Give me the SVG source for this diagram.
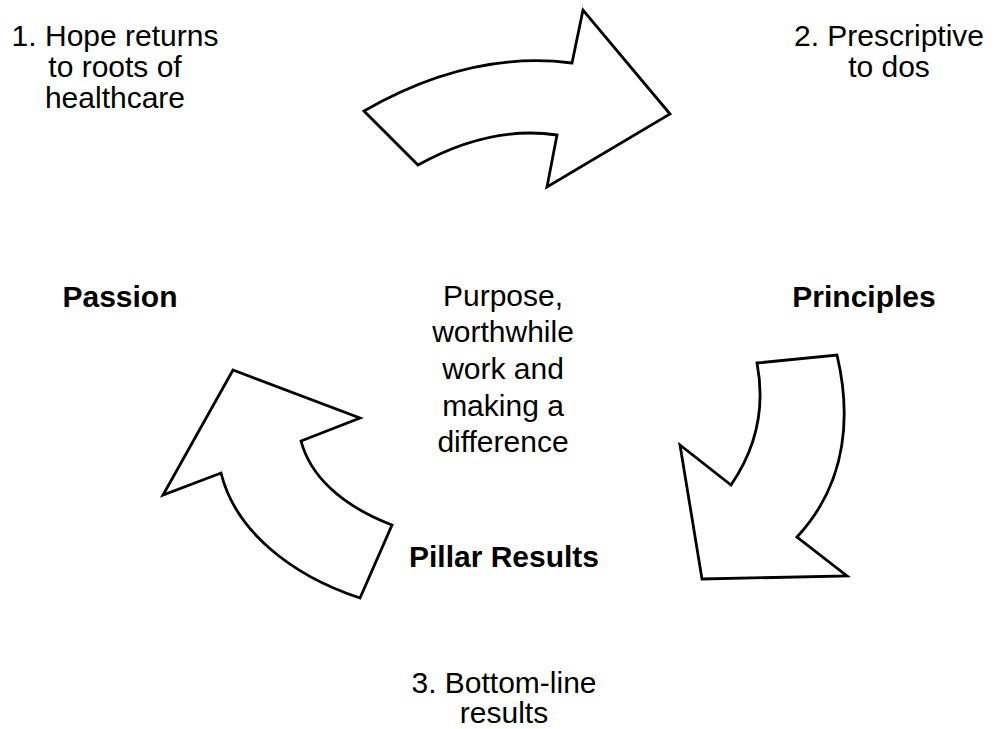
<svg xmlns="http://www.w3.org/2000/svg" width="1002" height="729" viewBox="0 0 1002 729">
<style>
.arrow{fill:#fff;stroke:#000;stroke-width:2.8;stroke-linejoin:miter}
.t{font-family:"Liberation Sans",Arial,sans-serif;font-size:30px;fill:#000;text-anchor:middle}
.b{font-weight:bold}
</style>
<rect width="1002" height="729" fill="#fff"/>
<g id="connectors">
<path id="arrow-top" class="arrow" d="M364,111 Q470,50 572,63 L583,10 L670,114 L547,187 L557,135 Q490,125 418,165 Z"/>
<path id="arrow-right" class="arrow" d="M757,363 L837,355 C850,410 850,480 797,537 L847,576 L702,579 L680,445 L731,485 C755,450 766,410 757,363 Z"/>
<path id="arrow-left" class="arrow" d="M233,370 L360,418 L301,441 C310,475 340,505 392,525 L360,598 C290,575 235,530 221,473 L163,495 Z"/>
</g>
<g id="node-hope">
<text class="t" x="115" y="46">1. Hope returns</text>
<text class="t" x="115" y="77">to roots of</text>
<text class="t" x="115" y="108">healthcare</text>
</g>
<g id="node-prescriptive">
<text class="t" x="889" y="46">2. Prescriptive</text>
<text class="t" x="889" y="77">to dos</text>
</g>
<g id="node-passion">
<text class="t b" x="120" y="307">Passion</text>
</g>
<g id="node-principles">
<text class="t b" x="864" y="307">Principles</text>
</g>
<g id="node-purpose">
<text class="t" x="503" y="306">Purpose,</text>
<text class="t" x="503" y="342">worthwhile</text>
<text class="t" x="503" y="379">work and</text>
<text class="t" x="503" y="416">making a</text>
<text class="t" x="503" y="452">difference</text>
</g>
<g id="node-pillar">
<text class="t b" x="504" y="567">Pillar Results</text>
</g>
<g id="node-bottomline">
<text class="t" x="504" y="693">3. Bottom-line</text>
<text class="t" x="504" y="723">results</text>
</g>
</svg>
